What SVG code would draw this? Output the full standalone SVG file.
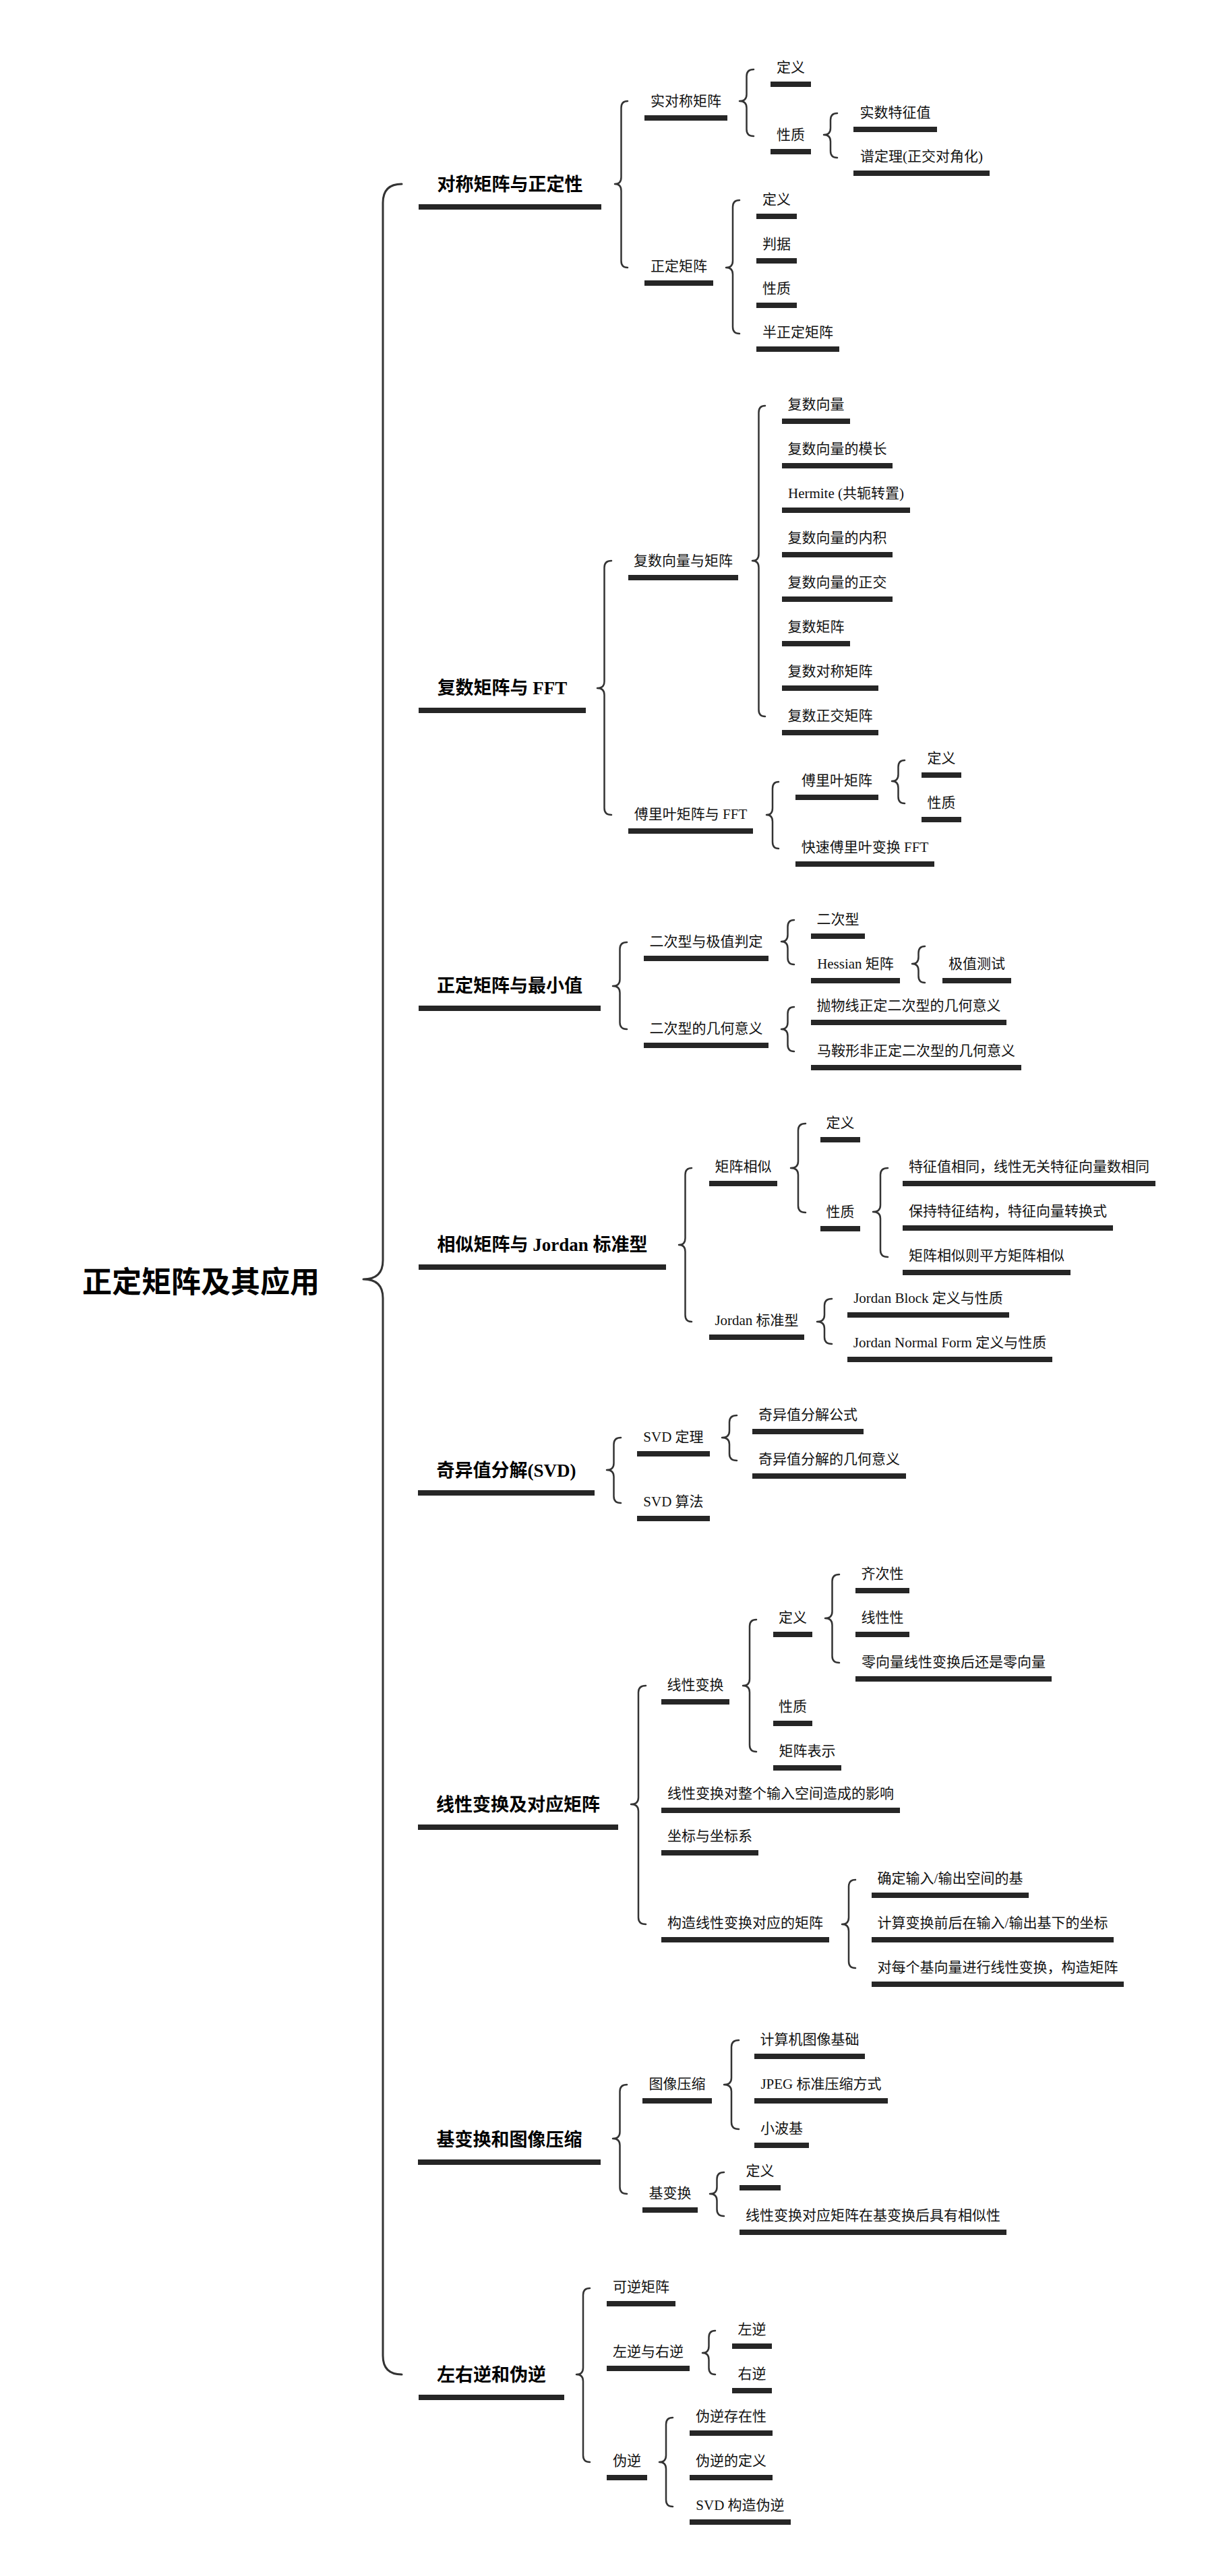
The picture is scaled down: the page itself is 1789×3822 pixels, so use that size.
<svg xmlns="http://www.w3.org/2000/svg" width="1789" height="3822" viewBox="0 0 1789 3822">
<style>
text{font-family:"Liberation Serif","Noto Sans CJK SC",serif;fill:#111;}
.t0{font-size:44px;font-weight:bold;font-family:"Noto Sans CJK SC","Liberation Sans",sans-serif;fill:#000;}
.t1{font-size:27px;font-weight:bold;text-anchor:middle;fill:#000;}
.t2{font-size:21px;text-anchor:middle;}
.bar{fill:#262626;}
.brace{fill:none;stroke:#333;stroke-width:2.5;stroke-linecap:round;stroke-linejoin:round;}
.main{stroke-width:3;}
</style>
<rect width="1789" height="3822" fill="#fff"/>
<g id="connectors">
<path class="brace main" d="M596,273 Q568,273 568,301 L568,1870 Q568,1898 539,1898 Q568,1898 568,1926 L568,3495 Q568,3523 596,3523"/>
<path class="brace" d="M931,150 Q921.5,150 921.5,160 L921.5,263 Q921.5,273 912,273 Q921.5,273 921.5,283 L921.5,387 Q921.5,397 931,397"/>
<path class="brace" d="M1118,103 Q1107.5,103 1107.5,113 L1107.5,140 Q1107.5,150 1097,150 Q1107.5,150 1107.5,160 L1107.5,192 Q1107.5,202 1118,202"/>
<path class="brace" d="M1242,168 Q1232,168 1232,178 L1232,190 Q1232,200 1222,200 Q1232,200 1232,210 L1232,224 Q1232,234 1242,234"/>
<path class="brace" d="M1097,297 Q1087,297 1087,307 L1087,387 Q1087,397 1077,397 Q1087,397 1087,407 L1087,485 Q1087,495 1097,495"/>
<path class="brace" d="M907,832 Q896.5,832 896.5,842 L896.5,1011 Q896.5,1021 886,1021 Q896.5,1021 896.5,1031 L896.5,1199 Q896.5,1209 907,1209"/>
<path class="brace" d="M1135,602 Q1125.5,602 1125.5,612 L1125.5,822 Q1125.5,832 1116,832 Q1125.5,832 1125.5,842 L1125.5,1053 Q1125.5,1063 1135,1063"/>
<path class="brace" d="M1155,1160 Q1146,1160 1146,1170 L1146,1199 Q1146,1209 1137,1209 Q1146,1209 1146,1219 L1146,1249 Q1146,1259 1155,1259"/>
<path class="brace" d="M1342,1128 Q1332.5,1128 1332.5,1138 L1332.5,1149 Q1332.5,1159 1323,1159 Q1332.5,1159 1332.5,1169 L1332.5,1182 Q1332.5,1192 1342,1192"/>
<path class="brace" d="M930,1398 Q919.5,1398 919.5,1408 L919.5,1453 Q919.5,1463 909,1463 Q919.5,1463 919.5,1473 L919.5,1517 Q919.5,1527 930,1527"/>
<path class="brace" d="M1178,1365 Q1168.5,1365 1168.5,1375 L1168.5,1387 Q1168.5,1397 1159,1397 Q1168.5,1397 1168.5,1407 L1168.5,1421 Q1168.5,1431 1178,1431"/>
<path class="brace" d="M1372,1404 Q1362.5,1404 1362.5,1414 L1362.5,1420 Q1362.5,1430 1353,1430 Q1362.5,1430 1362.5,1440 L1362.5,1448 Q1362.5,1458 1372,1458"/>
<path class="brace" d="M1178,1494 Q1168.5,1494 1168.5,1504 L1168.5,1517 Q1168.5,1527 1159,1527 Q1168.5,1527 1168.5,1537 L1168.5,1550 Q1168.5,1560 1178,1560"/>
<path class="brace" d="M1026,1733 Q1016.5,1733 1016.5,1743 L1016.5,1837 Q1016.5,1847 1007,1847 Q1016.5,1847 1016.5,1857 L1016.5,1951 Q1016.5,1961 1026,1961"/>
<path class="brace" d="M1195,1667 Q1184,1667 1184,1677 L1184,1723 Q1184,1733 1173,1733 Q1184,1733 1184,1743 L1184,1789 Q1184,1799 1195,1799"/>
<path class="brace" d="M1317,1733 Q1306,1733 1306,1743 L1306,1788 Q1306,1798 1295,1798 Q1306,1798 1306,1808 L1306,1855 Q1306,1865 1317,1865"/>
<path class="brace" d="M1234,1927 Q1223,1927 1223,1937 L1223,1951 Q1223,1961 1212,1961 Q1223,1961 1223,1971 L1223,1984 Q1223,1994 1234,1994"/>
<path class="brace" d="M921,2133 Q910.5,2133 910.5,2143 L910.5,2171 Q910.5,2181 900,2181 Q910.5,2181 910.5,2191 L910.5,2220 Q910.5,2230 921,2230"/>
<path class="brace" d="M1093,2100 Q1082,2100 1082,2110 L1082,2123 Q1082,2133 1071,2133 Q1082,2133 1082,2143 L1082,2157 Q1082,2167 1093,2167"/>
<path class="brace" d="M958,2501 Q947,2501 947,2511 L947,2667 Q947,2677 936,2677 Q947,2677 947,2687 L947,2845 Q947,2855 958,2855"/>
<path class="brace" d="M1122,2403 Q1112,2403 1112,2413 L1112,2491 Q1112,2501 1102,2501 Q1112,2501 1112,2511 L1112,2589 Q1112,2599 1122,2599"/>
<path class="brace" d="M1245,2336 Q1234.5,2336 1234.5,2346 L1234.5,2391 Q1234.5,2401 1224,2401 Q1234.5,2401 1234.5,2411 L1234.5,2457 Q1234.5,2467 1245,2467"/>
<path class="brace" d="M1269,2789 Q1259,2789 1259,2799 L1259,2845 Q1259,2855 1249,2855 Q1259,2855 1259,2865 L1259,2910 Q1259,2920 1269,2920"/>
<path class="brace" d="M930,3093 Q919.5,3093 919.5,3103 L919.5,3163 Q919.5,3173 909,3173 Q919.5,3173 919.5,3183 L919.5,3245 Q919.5,3255 930,3255"/>
<path class="brace" d="M1096,3027 Q1085,3027 1085,3037 L1085,3083 Q1085,3093 1074,3093 Q1085,3093 1085,3103 L1085,3149 Q1085,3159 1096,3159"/>
<path class="brace" d="M1074,3223 Q1063.5,3223 1063.5,3233 L1063.5,3245 Q1063.5,3255 1053,3255 Q1063.5,3255 1063.5,3265 L1063.5,3278 Q1063.5,3288 1074,3288"/>
<path class="brace" d="M875,3395 Q865,3395 865,3405 L865,3513 Q865,3523 855,3523 Q865,3523 865,3533 L865,3643 Q865,3653 875,3653"/>
<path class="brace" d="M1061,3458 Q1051.5,3458 1051.5,3468 L1051.5,3481 Q1051.5,3491 1042,3491 Q1051.5,3491 1051.5,3501 L1051.5,3513 Q1051.5,3523 1061,3523"/>
<path class="brace" d="M998,3587 Q988,3587 988,3597 L988,3643 Q988,3653 978,3653 Q988,3653 988,3663 L988,3709 Q988,3719 998,3719"/>
</g>
<g id="root"><text class="t0" x="122" y="1918">正定矩阵及其应用</text></g>

<g id="s1"><rect class="bar" x="621" y="303" width="271" height="8"/><text class="t1" x="756.5" y="283">对称矩阵与正定性</text></g>
<g id="s1-1"><rect class="bar" x="956" y="171" width="123" height="8"/><text class="t2" x="1017.5" y="157">实对称矩阵</text></g>
<g id="s1-1-1"><rect class="bar" x="1143" y="121" width="60" height="8"/><text class="t2" x="1173" y="107">定义</text></g>
<g id="s1-1-2"><rect class="bar" x="1143" y="221" width="60" height="8"/><text class="t2" x="1173" y="207">性质</text></g>
<g id="s1-1-2-1"><rect class="bar" x="1266" y="188" width="124" height="8"/><text class="t2" x="1328" y="174">实数特征值</text></g>
<g id="s1-1-2-2"><rect class="bar" x="1266" y="253" width="202" height="8"/><text class="t2" x="1367" y="239">谱定理(正交对角化)</text></g>
<g id="s1-2"><rect class="bar" x="956" y="416" width="102" height="8"/><text class="t2" x="1007" y="402">正定矩阵</text></g>
<g id="s1-2-1"><rect class="bar" x="1122" y="317" width="60" height="8"/><text class="t2" x="1152" y="303">定义</text></g>
<g id="s1-2-2"><rect class="bar" x="1122" y="383" width="60" height="8"/><text class="t2" x="1152" y="369">判据</text></g>
<g id="s1-2-3"><rect class="bar" x="1122" y="449" width="60" height="8"/><text class="t2" x="1152" y="435">性质</text></g>
<g id="s1-2-4"><rect class="bar" x="1122" y="514" width="123" height="8"/><text class="t2" x="1183.5" y="500">半正定矩阵</text></g>

<g id="s2"><rect class="bar" x="621" y="1050" width="248" height="8"/><text class="t1" x="745" y="1030">复数矩阵与 FFT</text></g>
<g id="s2-1"><rect class="bar" x="932" y="853" width="163" height="8"/><text class="t2" x="1013.5" y="839">复数向量与矩阵</text></g>
<g id="s2-1-1"><rect class="bar" x="1160" y="621" width="101" height="8"/><text class="t2" x="1210.5" y="607">复数向量</text></g>
<g id="s2-1-2"><rect class="bar" x="1160" y="687" width="164" height="8"/><text class="t2" x="1242" y="673">复数向量的模长</text></g>
<g id="s2-1-3"><rect class="bar" x="1160" y="753" width="190" height="8"/><text class="t2" x="1255" y="739">Hermite (共轭转置)</text></g>
<g id="s2-1-4"><rect class="bar" x="1160" y="819" width="164" height="8"/><text class="t2" x="1242" y="805">复数向量的内积</text></g>
<g id="s2-1-5"><rect class="bar" x="1160" y="885" width="164" height="8"/><text class="t2" x="1242" y="871">复数向量的正交</text></g>
<g id="s2-1-6"><rect class="bar" x="1160" y="951" width="101" height="8"/><text class="t2" x="1210.5" y="937">复数矩阵</text></g>
<g id="s2-1-7"><rect class="bar" x="1160" y="1017" width="143" height="8"/><text class="t2" x="1231.5" y="1003">复数对称矩阵</text></g>
<g id="s2-1-8"><rect class="bar" x="1160" y="1083" width="143" height="8"/><text class="t2" x="1231.5" y="1069">复数正交矩阵</text></g>
<g id="s2-2"><rect class="bar" x="932" y="1229" width="185" height="8"/><text class="t2" x="1024.5" y="1215">傅里叶矩阵与 FFT</text></g>
<g id="s2-2-1"><rect class="bar" x="1180" y="1179" width="123" height="8"/><text class="t2" x="1241.5" y="1165">傅里叶矩阵</text></g>
<g id="s2-2-1-1"><rect class="bar" x="1367" y="1146" width="59" height="8"/><text class="t2" x="1396.5" y="1132">定义</text></g>
<g id="s2-2-1-2"><rect class="bar" x="1367" y="1212" width="59" height="8"/><text class="t2" x="1396.5" y="1198">性质</text></g>
<g id="s2-2-2"><rect class="bar" x="1180" y="1278" width="206" height="8"/><text class="t2" x="1283" y="1264">快速傅里叶变换 FFT</text></g>

<g id="s3"><rect class="bar" x="621" y="1492" width="270" height="8"/><text class="t1" x="756" y="1472">正定矩阵与最小值</text></g>
<g id="s3-1"><rect class="bar" x="955" y="1418" width="185" height="8"/><text class="t2" x="1047.5" y="1404">二次型与极值判定</text></g>
<g id="s3-1-1"><rect class="bar" x="1203" y="1385" width="80" height="8"/><text class="t2" x="1243" y="1371">二次型</text></g>
<g id="s3-1-2"><rect class="bar" x="1203" y="1451" width="132" height="8"/><text class="t2" x="1269" y="1437">Hessian 矩阵</text></g>
<g id="s3-1-2-1"><rect class="bar" x="1398" y="1451" width="102" height="8"/><text class="t2" x="1449" y="1437">极值测试</text></g>
<g id="s3-2"><rect class="bar" x="955" y="1547" width="185" height="8"/><text class="t2" x="1047.5" y="1533">二次型的几何意义</text></g>
<g id="s3-2-1"><rect class="bar" x="1203" y="1513" width="290" height="8"/><text class="t2" x="1348" y="1499">抛物线正定二次型的几何意义</text></g>
<g id="s3-2-2"><rect class="bar" x="1203" y="1580" width="312" height="8"/><text class="t2" x="1359" y="1566">马鞍形非正定二次型的几何意义</text></g>

<g id="s4"><rect class="bar" x="621" y="1876" width="367" height="8"/><text class="t1" x="804.5" y="1856">相似矩阵与 Jordan 标准型</text></g>
<g id="s4-1"><rect class="bar" x="1052" y="1752" width="101" height="8"/><text class="t2" x="1102.5" y="1738">矩阵相似</text></g>
<g id="s4-1-1"><rect class="bar" x="1217" y="1687" width="59" height="8"/><text class="t2" x="1246.5" y="1673">定义</text></g>
<g id="s4-1-2"><rect class="bar" x="1217" y="1819" width="59" height="8"/><text class="t2" x="1246.5" y="1805">性质</text></g>
<g id="s4-1-2-1"><rect class="bar" x="1339" y="1752" width="375" height="8"/><text class="t2" x="1526.5" y="1738">特征值相同，线性无关特征向量数相同</text></g>
<g id="s4-1-2-2"><rect class="bar" x="1339" y="1818" width="312" height="8"/><text class="t2" x="1495" y="1804">保持特征结构，特征向量转换式</text></g>
<g id="s4-1-2-3"><rect class="bar" x="1339" y="1884" width="249" height="8"/><text class="t2" x="1463.5" y="1870">矩阵相似则平方矩阵相似</text></g>
<g id="s4-2"><rect class="bar" x="1052" y="1980" width="141" height="8"/><text class="t2" x="1122.5" y="1966">Jordan 标准型</text></g>
<g id="s4-2-1"><rect class="bar" x="1257" y="1947" width="240" height="8"/><text class="t2" x="1377" y="1933">Jordan Block 定义与性质</text></g>
<g id="s4-2-2"><rect class="bar" x="1257" y="2013" width="304" height="8"/><text class="t2" x="1409" y="1999">Jordan Normal Form 定义与性质</text></g>

<g id="s5"><rect class="bar" x="620" y="2211" width="262" height="8"/><text class="t1" x="751" y="2191">奇异值分解(SVD)</text></g>
<g id="s5-1"><rect class="bar" x="945" y="2153" width="108" height="8"/><text class="t2" x="999" y="2139">SVD 定理</text></g>
<g id="s5-1-1"><rect class="bar" x="1116" y="2120" width="165" height="8"/><text class="t2" x="1198.5" y="2106">奇异值分解公式</text></g>
<g id="s5-1-2"><rect class="bar" x="1116" y="2186" width="228" height="8"/><text class="t2" x="1230" y="2172">奇异值分解的几何意义</text></g>
<g id="s5-2"><rect class="bar" x="945" y="2249" width="108" height="8"/><text class="t2" x="999" y="2235">SVD 算法</text></g>

<g id="s6"><rect class="bar" x="620" y="2707" width="297" height="8"/><text class="t1" x="768.5" y="2687">线性变换及对应矩阵</text></g>
<g id="s6-1"><rect class="bar" x="981" y="2521" width="101" height="8"/><text class="t2" x="1031.5" y="2507">线性变换</text></g>
<g id="s6-1-1"><rect class="bar" x="1147" y="2421" width="58" height="8"/><text class="t2" x="1176" y="2407">定义</text></g>
<g id="s6-1-1-1"><rect class="bar" x="1269" y="2356" width="80" height="8"/><text class="t2" x="1309" y="2342">齐次性</text></g>
<g id="s6-1-1-2"><rect class="bar" x="1269" y="2421" width="80" height="8"/><text class="t2" x="1309" y="2407">线性性</text></g>
<g id="s6-1-1-3"><rect class="bar" x="1269" y="2487" width="291" height="8"/><text class="t2" x="1414.5" y="2473">零向量线性变换后还是零向量</text></g>
<g id="s6-1-2"><rect class="bar" x="1147" y="2553" width="58" height="8"/><text class="t2" x="1176" y="2539">性质</text></g>
<g id="s6-1-3"><rect class="bar" x="1147" y="2619" width="101" height="8"/><text class="t2" x="1197.5" y="2605">矩阵表示</text></g>
<g id="s6-2"><rect class="bar" x="981" y="2682" width="354" height="8"/><text class="t2" x="1158" y="2668">线性变换对整个输入空间造成的影响</text></g>
<g id="s6-3"><rect class="bar" x="981" y="2745" width="144" height="8"/><text class="t2" x="1053" y="2731">坐标与坐标系</text></g>
<g id="s6-4"><rect class="bar" x="981" y="2874" width="249" height="8"/><text class="t2" x="1105.5" y="2860">构造线性变换对应的矩阵</text></g>
<g id="s6-4-1"><rect class="bar" x="1293" y="2808" width="233" height="8"/><text class="t2" x="1409.5" y="2794">确定输入/输出空间的基</text></g>
<g id="s6-4-2"><rect class="bar" x="1293" y="2874" width="359" height="8"/><text class="t2" x="1472.5" y="2860">计算变换前后在输入/输出基下的坐标</text></g>
<g id="s6-4-3"><rect class="bar" x="1293" y="2940" width="374" height="8"/><text class="t2" x="1480" y="2926">对每个基向量进行线性变换，构造矩阵</text></g>

<g id="s7"><rect class="bar" x="620" y="3204" width="271" height="8"/><text class="t1" x="755.5" y="3184">基变换和图像压缩</text></g>
<g id="s7-1"><rect class="bar" x="953" y="3113" width="103" height="8"/><text class="t2" x="1004.5" y="3099">图像压缩</text></g>
<g id="s7-1-1"><rect class="bar" x="1119" y="3047" width="164" height="8"/><text class="t2" x="1201" y="3033">计算机图像基础</text></g>
<g id="s7-1-2"><rect class="bar" x="1119" y="3113" width="198" height="8"/><text class="t2" x="1218" y="3099">JPEG 标准压缩方式</text></g>
<g id="s7-1-3"><rect class="bar" x="1119" y="3179" width="81" height="8"/><text class="t2" x="1159.5" y="3165">小波基</text></g>
<g id="s7-2"><rect class="bar" x="953" y="3275" width="82" height="8"/><text class="t2" x="994" y="3261">基变换</text></g>
<g id="s7-2-1"><rect class="bar" x="1097" y="3242" width="61" height="8"/><text class="t2" x="1127.5" y="3228">定义</text></g>
<g id="s7-2-2"><rect class="bar" x="1097" y="3308" width="396" height="8"/><text class="t2" x="1295" y="3294">线性变换对应矩阵在基变换后具有相似性</text></g>

<g id="s8"><rect class="bar" x="621" y="3553" width="216" height="8"/><text class="t1" x="729" y="3533">左右逆和伪逆</text></g>
<g id="s8-1"><rect class="bar" x="900" y="3414" width="102" height="8"/><text class="t2" x="951" y="3400">可逆矩阵</text></g>
<g id="s8-2"><rect class="bar" x="900" y="3510" width="123" height="8"/><text class="t2" x="961.5" y="3496">左逆与右逆</text></g>
<g id="s8-2-1"><rect class="bar" x="1086" y="3477" width="59" height="8"/><text class="t2" x="1115.5" y="3463">左逆</text></g>
<g id="s8-2-2"><rect class="bar" x="1086" y="3543" width="59" height="8"/><text class="t2" x="1115.5" y="3529">右逆</text></g>
<g id="s8-3"><rect class="bar" x="900" y="3672" width="60" height="8"/><text class="t2" x="930" y="3658">伪逆</text></g>
<g id="s8-3-1"><rect class="bar" x="1023" y="3606" width="123" height="8"/><text class="t2" x="1084.5" y="3592">伪逆存在性</text></g>
<g id="s8-3-2"><rect class="bar" x="1023" y="3672" width="123" height="8"/><text class="t2" x="1084.5" y="3658">伪逆的定义</text></g>
<g id="s8-3-3"><rect class="bar" x="1023" y="3738" width="150" height="8"/><text class="t2" x="1098" y="3724">SVD 构造伪逆</text></g>
</svg>
